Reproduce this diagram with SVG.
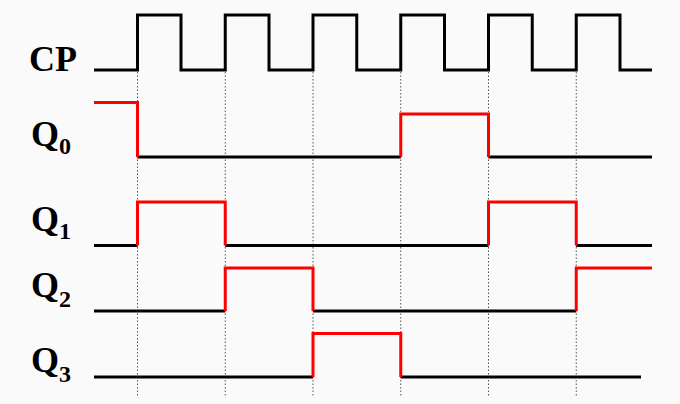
<svg xmlns="http://www.w3.org/2000/svg" width="680" height="404" viewBox="0 0 680 404">
<style>
.lbl{font-family:"Liberation Serif","Times New Roman",serif;font-weight:bold;font-size:36px;fill:#000}
.sub{font-size:24px}
.blk{fill:none;stroke:#000;stroke-width:3;stroke-linejoin:miter;stroke-linecap:butt}
.red{fill:none;stroke:#ff0000;stroke-width:3;stroke-linejoin:miter;stroke-linecap:butt}
.guide{fill:none;stroke:#555;stroke-width:1;stroke-dasharray:1.5 2}
</style>
<rect x="0" y="0" width="680" height="404" fill="#fafafa"/>
<g id="connectors">
<path class="guide" d="M137.5,72 V397 M225.25,72 V397 M313,72 V397 M400.75,72 V397 M488.5,72 V397 M576.25,72 V397"/>
</g>
<g id="CP">
<text class="lbl" x="29" y="70.5">CP</text>
<path class="blk" d="M94,70 H137.5 V15 H181 V70 H225.25 V15 H269 V70 H313 V15 H356.75 V70 H400.75 V15 H444.5 V70 H488.5 V15 H532.25 V70 H576.25 V15 H620 V70 H652"/>
</g>
<g id="Q0">
<text class="lbl" x="31" y="145.5">Q<tspan class="sub" y="154">0</tspan></text>
<path class="blk" d="M137.5,157 H400.75 M488.5,157 H652"/>
<path class="red" d="M94,102.5 H137.5 V157 M400.75,157 V114 H488.5 V157"/>
</g>
<g id="Q1">
<text class="lbl" x="31" y="230.5">Q<tspan class="sub" y="238.5">1</tspan></text>
<path class="blk" d="M94,245.5 H137.5 M225.25,245.5 H488.5 M576.25,245.5 H652"/>
<path class="red" d="M137.5,245.5 V202 H225.25 V245.5 M488.5,245.5 V202 H576.25 V245.5"/>
</g>
<g id="Q2">
<text class="lbl" x="31" y="296.5">Q<tspan class="sub" y="307">2</tspan></text>
<path class="blk" d="M94,311 H225.25 M313,311 H576.25"/>
<path class="red" d="M225.25,311 V268 H313 V311 M576.25,311 V268 H652"/>
</g>
<g id="Q3">
<text class="lbl" x="31" y="372">Q<tspan class="sub" y="381.5">3</tspan></text>
<path class="blk" d="M94,377 H313 M400.75,377 H641"/>
<path class="red" d="M313,377 V333.5 H400.75 V377"/>
</g>
</svg>
